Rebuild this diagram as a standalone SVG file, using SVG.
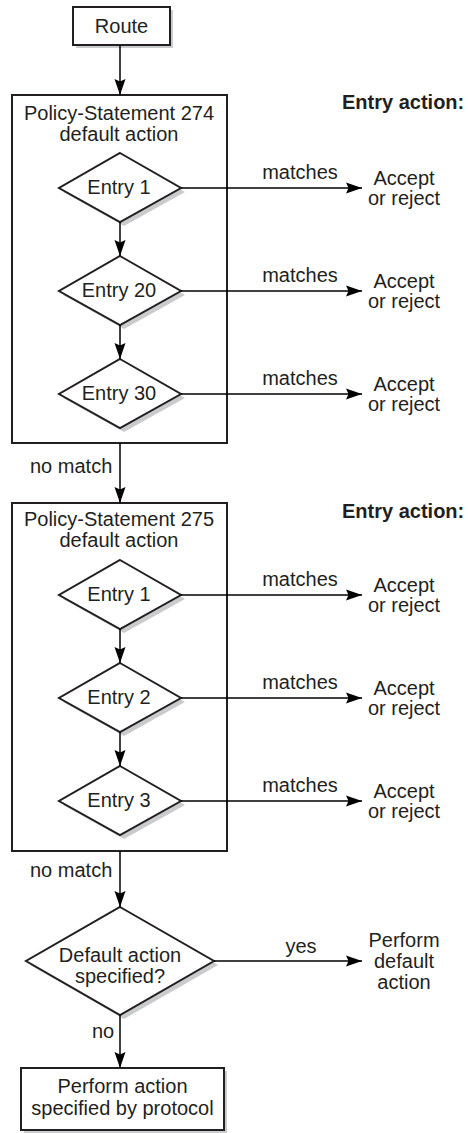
<svg xmlns="http://www.w3.org/2000/svg" width="468" height="1133" viewBox="0 0 468 1133">
<style>
text{font-family:"Liberation Sans",Arial,Helvetica,sans-serif;font-size:20px;fill:#231f20}
.c{text-anchor:middle}
.b{font-weight:bold}
.box{fill:#fff;stroke:#231f20;stroke-width:2}
.sh{fill:#c9cbcc;stroke:none}
.ln{stroke:#000;stroke-width:1.5;fill:none;marker-end:url(#ah)}
</style>
<defs>
<marker id="ah" markerUnits="userSpaceOnUse" markerWidth="16" markerHeight="12" viewBox="0 0 16 12" refX="16" refY="6" orient="auto">
<path d="M0,0.5 L16,6 L0,11.5 L2.5,6 Z" fill="#000"/>
</marker>
</defs>
<rect width="468" height="1133" fill="#fff"/>

<g id="route">
<rect class="sh" x="76" y="10" width="97" height="38"/>
<rect class="box" x="73" y="7" width="97" height="38"/>
<text class="c" x="121.5" y="33">Route</text>
</g>

<g id="ps274">
<rect class="box" x="12" y="95" width="215" height="348"/>
<text class="c" x="119" y="120">Policy-Statement 274</text>
<text class="c" x="119" y="141">default action</text>
</g>
<g id="ps274-e1">
<polygon class="sh" points="124,157 185,192 124,226 63,192"/>
<polygon class="box" points="120,153 181,188 120,222 59,188"/>
<text class="c" x="119" y="194">Entry 1</text>
</g>
<g id="ps274-e20">
<polygon class="sh" points="124,260 185,295 124,329 63,295"/>
<polygon class="box" points="120,256 181,291 120,325 59,291"/>
<text class="c" x="119" y="297">Entry 20</text>
</g>
<g id="ps274-e30">
<polygon class="sh" points="124,363 185,398 124,432 63,398"/>
<polygon class="box" points="120,359 181,394 120,428 59,394"/>
<text class="c" x="119" y="400">Entry 30</text>
</g>

<g id="ps275">
<rect class="box" x="12" y="503" width="215" height="348"/>
<text class="c" x="119" y="526">Policy-Statement 275</text>
<text class="c" x="119" y="547">default action</text>
</g>
<g id="ps275-e1">
<polygon class="sh" points="124,564 185,599 124,633 63,599"/>
<polygon class="box" points="120,560 181,595 120,629 59,595"/>
<text class="c" x="119" y="601">Entry 1</text>
</g>
<g id="ps275-e2">
<polygon class="sh" points="124,667 185,702 124,736 63,702"/>
<polygon class="box" points="120,663 181,698 120,732 59,698"/>
<text class="c" x="119" y="704">Entry 2</text>
</g>
<g id="ps275-e3">
<polygon class="sh" points="124,770 185,805 124,839 63,805"/>
<polygon class="box" points="120,766 181,801 120,835 59,801"/>
<text class="c" x="119" y="807">Entry 3</text>
</g>

<g id="decision">
<polygon class="sh" points="124,911 218,965 124,1019 30,965"/>
<polygon class="box" points="120,907 214,961 120,1015 26,961"/>
<text class="c" x="120" y="962">Default action</text>
<text class="c" x="120" y="983">specified?</text>
</g>

<g id="protocol">
<rect class="sh" x="24" y="1071" width="203" height="62"/>
<rect class="box" x="21" y="1068" width="203" height="62"/>
<text class="c" x="122.5" y="1093">Perform action</text>
<text class="c" x="122.5" y="1115">specified by protocol</text>
</g>

<g id="results">
<text class="b" x="342" y="109">Entry action:</text>
<text class="b" x="342" y="518">Entry action:</text>
<text class="c" x="404" y="185">Accept</text><text class="c" x="404" y="205">or reject</text>
<text class="c" x="404" y="288">Accept</text><text class="c" x="404" y="308">or reject</text>
<text class="c" x="404" y="391">Accept</text><text class="c" x="404" y="411">or reject</text>
<text class="c" x="404" y="592">Accept</text><text class="c" x="404" y="612">or reject</text>
<text class="c" x="404" y="695">Accept</text><text class="c" x="404" y="715">or reject</text>
<text class="c" x="404" y="798">Accept</text><text class="c" x="404" y="818">or reject</text>
<text class="c" x="404" y="947">Perform</text>
<text class="c" x="404" y="968">default</text>
<text class="c" x="404" y="989">action</text>
</g>

<g id="connectors">
<line class="ln" x1="120" y1="45" x2="120" y2="95"/>
<line class="ln" x1="120" y1="222" x2="120" y2="256"/>
<line class="ln" x1="120" y1="325" x2="120" y2="359"/>
<line class="ln" x1="120" y1="443" x2="120" y2="503"/>
<line class="ln" x1="120" y1="629" x2="120" y2="663"/>
<line class="ln" x1="120" y1="732" x2="120" y2="766"/>
<line class="ln" x1="120" y1="851" x2="120" y2="907"/>
<line class="ln" x1="120" y1="1015" x2="120" y2="1068"/>
<line class="ln" x1="181" y1="188" x2="362" y2="188"/>
<line class="ln" x1="181" y1="291" x2="362" y2="291"/>
<line class="ln" x1="181" y1="394" x2="362" y2="394"/>
<line class="ln" x1="181" y1="595" x2="362" y2="595"/>
<line class="ln" x1="181" y1="698" x2="362" y2="698"/>
<line class="ln" x1="181" y1="801" x2="362" y2="801"/>
<line class="ln" x1="214" y1="961" x2="362" y2="961"/>
<text class="c" x="300" y="179">matches</text>
<text class="c" x="300" y="282">matches</text>
<text class="c" x="300" y="385">matches</text>
<text class="c" x="300" y="586">matches</text>
<text class="c" x="300" y="689">matches</text>
<text class="c" x="300" y="792">matches</text>
<text class="c" x="301" y="953">yes</text>
<text x="30" y="473">no match</text>
<text x="30" y="877">no match</text>
<text x="92" y="1038">no</text>
</g>
</svg>
